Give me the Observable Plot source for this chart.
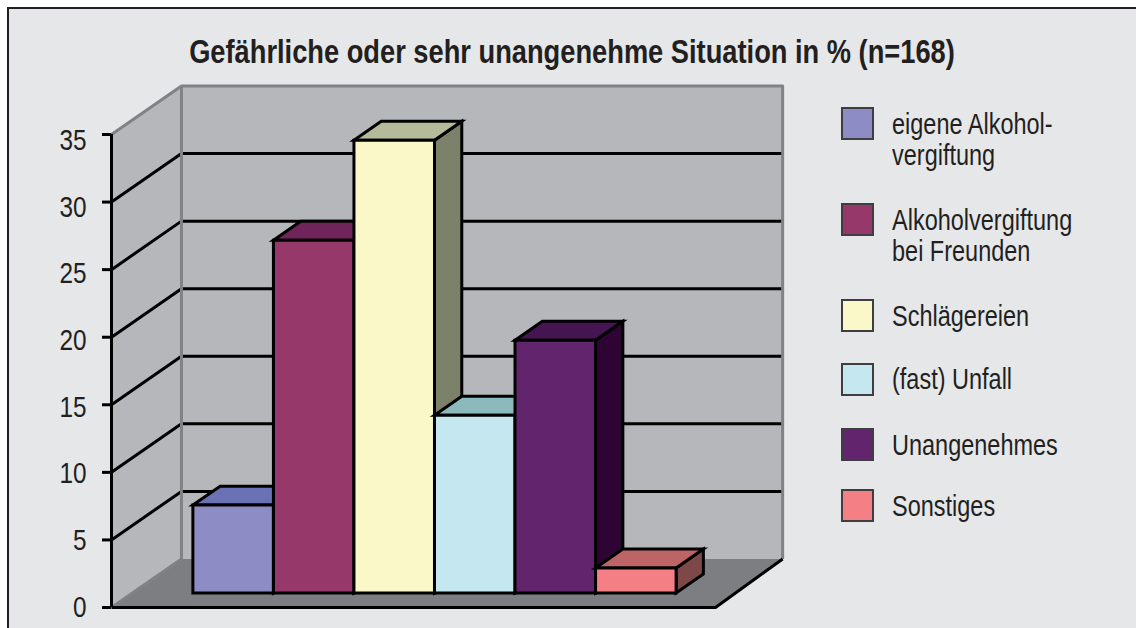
<!DOCTYPE html>
<html lang="de">
<head>
<meta charset="utf-8">
<title>Gefährliche oder sehr unangenehme Situation</title>
<script src="https://cdn.jsdelivr.net/npm/d3@7"></script>
<script src="https://cdn.jsdelivr.net/npm/@observablehq/plot@0.6"></script>
<style>
  html, body { margin: 0; padding: 0; background: #fff; overflow: hidden; }
  body { width: 1136px; height: 628px; position: relative; font-family: "Liberation Sans", Arial, sans-serif; color: #231f20; }
  #frame { position: absolute; left: 7px; top: 7px; right: 0; bottom: 0; background: #e6e7e9; border-left: 2px solid #231f20; border-top: 2px solid #231f20; }
  #chart { position: absolute; left: 0; top: 0; }
  #chart svg { display: block; }
  #title { position: absolute; left: 0; width: 1144px; top: 34px; text-align: center; font-weight: 700; font-size: 33px; line-height: 36px; white-space: nowrap; transform: scaleX(0.826); transform-origin: 572px 0; }
  #legend { position: absolute; left: 841px; top: 107px; }
  .item { display: flex; align-items: flex-start; height: 96px; }
  .item:nth-child(3) { height: 63.5px; }
  .item:nth-child(4) { height: 65.5px; }
  .item:nth-child(5) { height: 61px; }
  .swatch { width: 33px; height: 33px; box-sizing: border-box; border: 2px solid #3d3d42; flex: none; }
  .label { margin-left: 18px; font-size: 29px; line-height: 31.5px; white-space: pre; position: relative; top: 1.5px; transform: scaleX(0.81); transform-origin: 0 0; }
</style>
</head>
<body>
<div id="frame"></div>
<div id="chart"></div>
<div id="title"></div>
<div id="legend"></div>
<script>
const titleText = "Gefährliche oder sehr unangenehme Situation in % (n=168)";
const categories = ["eigene Alkohol-\nvergiftung", "Alkoholvergiftung\nbei Freunden", "Schlägereien", "(fast) Unfall", "Unangenehmes", "Sonstiges"];
const values = [6.5, 26.1, 33.5, 13.15, 18.7, 1.85];
const frontColors = ["#8d8cc4", "#963869", "#faf7c8", "#c5e7f0", "#63246e", "#f47f84"];
const topColors = ["#6b71b5", "#6f2559", "#b5bb9a", "#8bb9bc", "#451552", "#bd6466"];
const sideColors = ["#4e4f80", "#4f1a3a", "#7c816a", "#64888e", "#2d0432", "#7e4748"];
const yTicks = [0, 5, 10, 15, 20, 25, 30, 35];

// Oblique 3-D projection, expressed in the units of the x and y scales
const depthX = 0.695, depthY = 3.59;
const gap = 0.6, barWidth = 0.8, barFront = 0.3, barBack = 0.69;
const labelStretch = 0.987;
const xMax = 6, yMax = 35, xBackMax = 5.972;
const pt = (pos, val, d) => ({x: pos + d * depthX, y: val + d * depthY});

const wallFill = "#b6b7bb", floorFill = "#7d7e82", edge = "#808285";
const quad = (points, fill) => Plot.line(points, {x: "x", y: "y", fill, stroke: "none", curve: "linear-closed"});
const edgeLine = (points, stroke, strokeWidth = 3) => Plot.line(points, {x: "x", y: "y", stroke, strokeWidth, strokeLinecap: "butt"});
const face = (points, fill) => Plot.line(points, {x: "x", y: "y", fill, stroke: "#000", strokeWidth: 3, curve: "linear-closed", strokeLinejoin: "miter", strokeMiterlimit: 4});

const gridRows = yTicks.filter(v => v > 0 && v < yMax).flatMap(v => [
  {...pt(0, v, 0), v}, {...pt(0, v, 1), v}, {...pt(xBackMax, v, 1), v}
]);

const barMarks = values.flatMap((v, i) => {
  const l = gap + i * barWidth, r = l + barWidth;
  return [
    face([pt(r, 0, barFront), pt(r, 0, barBack), pt(r, v, barBack), pt(r, v, barFront)], sideColors[i]),
    face([pt(l, v, barFront), pt(l, v, barBack), pt(r, v, barBack), pt(r, v, barFront)], topColors[i]),
    face([pt(l, 0, barFront), pt(r, 0, barFront), pt(r, v, barFront), pt(l, v, barFront)], frontColors[i])
  ];
});

const plot = Plot.plot({
  width: 1136, height: 628,
  marginLeft: 111, marginRight: 421, marginTop: 134, marginBottom: 21,
  style: {background: "transparent", overflow: "visible"},
  x: {domain: [0, xMax], axis: null},
  y: {domain: [0, yMax], axis: null},
  marks: [
    // walls and floor
    quad([pt(0, 0, 0), pt(0, yMax, 0), pt(0, yMax, 1), pt(0, 0, 1)], wallFill),
    quad([pt(0, 0, 1), pt(0, yMax, 1), pt(xBackMax, yMax, 1), pt(xBackMax, 0, 1)], wallFill),
    quad([pt(0, 0, 0), pt(xMax, 0, 0), pt(xBackMax, 0, 1), pt(0, 0, 1)], floorFill),
    // gridlines
    Plot.line(gridRows, {x: "x", y: "y", z: "v", stroke: "#000", strokeWidth: 3, strokeLinejoin: "miter"}),
    // gray wall edges
    edgeLine([pt(0, yMax, 0), pt(0, yMax, 1), pt(xBackMax, yMax, 1), pt(xBackMax, 0, 1)], edge),
    edgeLine([pt(0, 0, 0), pt(0, 0, 1), pt(0, yMax, 1)], edge),
    // axis frame
    Plot.ruleX([0], {y1: 0, y2: yMax, stroke: "#000", strokeWidth: 3}),
    edgeLine([pt(xBackMax, 0, 1), pt(xMax, 0, 0), pt(0, 0, 0)], "#000"),
    Plot.axisY(yTicks, {anchor: "left", text: null, label: null, tickSize: 9, stroke: "#000", strokeWidth: 3}),
    Plot.text(yTicks, {
      x: () => 0, y: d => d * labelStretch, text: d => String(d),
      dx: -25, textAnchor: "end", lineAnchor: "middle",
      fontFamily: "Liberation Sans", fontSize: 29, fill: "#231f20"
    }),
    // bars
    ...barMarks
  ]
});
// condense the tick labels, as no narrow font is installed
plot.querySelectorAll("text").forEach(t => {
  const tr = t.getAttribute("transform");
  if (tr) t.setAttribute("transform", tr + " scale(0.84,1)");
});
document.getElementById("chart").append(plot);
document.getElementById("title").textContent = titleText;

const legend = document.getElementById("legend");
categories.forEach((name, i) => {
  const item = document.createElement("div");
  item.className = "item";
  const swatch = document.createElement("div");
  swatch.className = "swatch";
  swatch.style.background = frontColors[i];
  const label = document.createElement("div");
  label.className = "label";
  label.textContent = name;
  item.append(swatch, label);
  legend.append(item);
});
</script>
</body>
</html>
